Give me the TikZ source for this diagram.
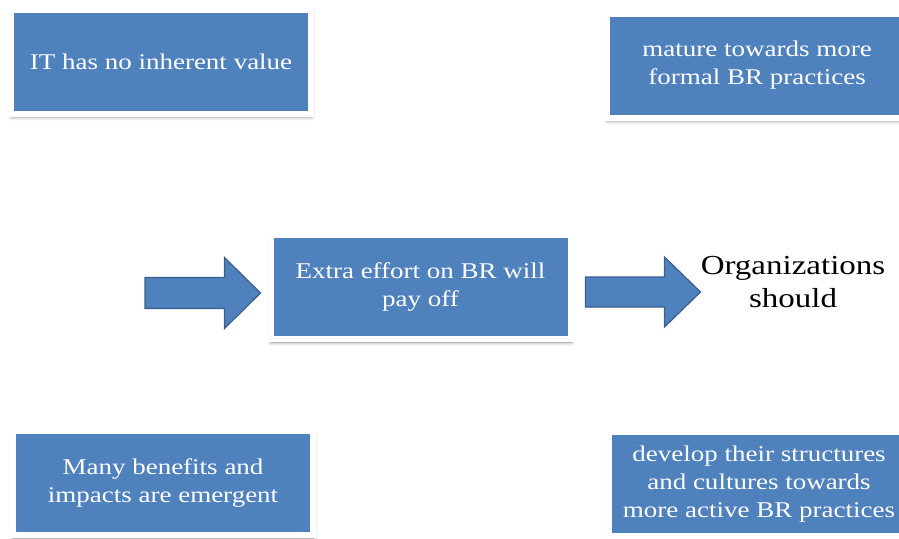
\documentclass[tikz,border=0pt]{standalone}
\usepackage{fontspec}
\setmainfont[FakeStretch=1.2]{Liberation Serif}
\usetikzlibrary{shadows.blur,calc}
\definecolor{boxblue}{HTML}{4F81BD}
\definecolor{arrowedge}{HTML}{3A5F8C}
\begin{document}
\begin{tikzpicture}[x=1pt,y=-1pt,
  bluebox/.style={draw=white, line width=6pt, fill=boxblue, text=white,
    minimum width=300pt, minimum height=104pt, align=center,
    font=\fontsize{22.5}{28}\selectfont,
    blur shadow={shadow xshift=0.5pt, shadow yshift=-3pt, shadow blur radius=4pt,
      shadow blur steps=8, shadow opacity=50}},
  blockarrow/.style={fill=boxblue, draw=arrowedge, line width=1.2pt, line join=miter}
]
\useasboundingbox (0,0) rectangle (899,538);

\node[bluebox] (itval) at (161,61.5) {IT has no inherent value};
\node[bluebox] (mature) at (757,65.5) {mature towards more\\formal BR practices};
\node[bluebox] (effort) at (420.5,287) {Extra effort on BR will\\pay off};
\node[bluebox] (emerg) at (163,483) {Many benefits and\\impacts are emergent};
\node[bluebox] (develop) at (759,484) {develop their structures\\and cultures towards\\more active BR practices};
\node[align=center, font=\fontsize{27.5}{33}\selectfont] (orgs) at (793,282) {Organizations\\should};

% block arrow leading into the central box
\coordinate (inTail) at (145,293);
\coordinate (inTip) at ($(effort.west |- inTail)+(-7,0)$);
\draw[blockarrow] ($(inTail)+(0,-15.5)$) -- ($(inTip)+(-36,-15.5)$) -- ($(inTip)+(-36,-35.5)$)
  -- (inTip) -- ($(inTip)+(-36,35.5)$) -- ($(inTip)+(-36,15.5)$) -- ($(inTail)+(0,15.5)$) -- cycle;

% block arrow from the central box to the conclusion
\coordinate (outTail) at ($(effort.east)+(12,5)$);
\coordinate (outTip) at ($(outTail)+(115,0)$);
\draw[blockarrow] ($(outTail)+(0,-15)$) -- ($(outTip)+(-36,-15)$) -- ($(outTip)+(-36,-35)$)
  -- (outTip) -- ($(outTip)+(-36,35)$) -- ($(outTip)+(-36,15)$) -- ($(outTail)+(0,15)$) -- cycle;
\end{tikzpicture}
\end{document}
